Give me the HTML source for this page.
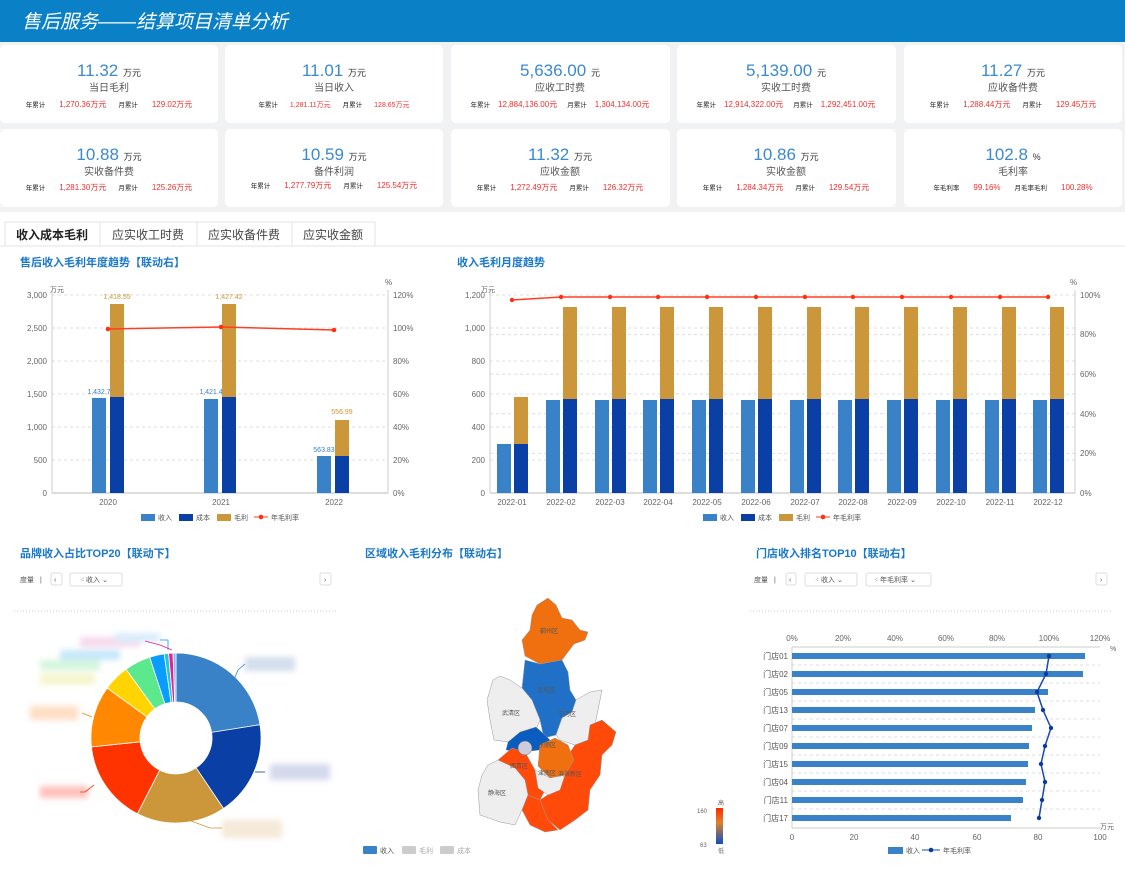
<!DOCTYPE html>
<html><head><meta charset="utf-8"><style>
body{margin:0;width:1125px;height:870px;overflow:hidden;background:#fff;font-family:"Liberation Sans","Noto Sans CJK SC",sans-serif}
svg text{font-family:"Liberation Sans","Noto Sans CJK SC",sans-serif}
.l{font-size:6.5px;fill:#222}
</style></head><body>
<svg width="1125" height="870" viewBox="0 0 1125 870" xmlns="http://www.w3.org/2000/svg">
<defs><filter id="bl"><feGaussianBlur stdDeviation="3"/></filter></defs>
<rect width="1125" height="870" fill="#fff"/>
<rect y="42" width="1125" height="170" fill="#f1f2f4"/>
<rect width="1125" height="42" fill="#0a80c6"/>
<text x="22" y="28" font-size="19" fill="#fff" font-style="italic">售后服务——结算项目清单分析</text>
<!-- cards -->
<g fill="#fff">
<rect x="0" y="45" width="218" height="78" rx="5"/><rect x="225" y="45" width="218" height="78" rx="5"/><rect x="451" y="45" width="219" height="78" rx="5"/><rect x="677" y="45" width="219" height="78" rx="5"/><rect x="904" y="45" width="218" height="78" rx="5"/>
<rect x="0" y="129" width="218" height="78" rx="5"/><rect x="225" y="129" width="218" height="78" rx="5"/><rect x="451" y="129" width="219" height="78" rx="5"/><rect x="677" y="129" width="219" height="78" rx="5"/><rect x="904" y="129" width="218" height="78" rx="5"/>
</g>
<g text-anchor="middle">
<g font-size="17" fill="#3a8ad0">
<text x="109" y="76">11.32 <tspan font-size="9" fill="#333">万元</tspan></text>
<text x="334" y="76">11.01 <tspan font-size="9" fill="#333">万元</tspan></text>
<text x="560" y="76">5,636.00 <tspan font-size="9" fill="#333">元</tspan></text>
<text x="786" y="76">5,139.00 <tspan font-size="9" fill="#333">元</tspan></text>
<text x="1013" y="76">11.27 <tspan font-size="9" fill="#333">万元</tspan></text>
<text x="109" y="160">10.88 <tspan font-size="9" fill="#333">万元</tspan></text>
<text x="334" y="160">10.59 <tspan font-size="9" fill="#333">万元</tspan></text>
<text x="560" y="160">11.32 <tspan font-size="9" fill="#333">万元</tspan></text>
<text x="786" y="160">10.86 <tspan font-size="9" fill="#333">万元</tspan></text>
<text x="1013" y="160">102.8 <tspan font-size="9" fill="#333">%</tspan></text>
</g>
<g font-size="10" fill="#555">
<text x="109" y="91">当日毛利</text><text x="334" y="91">当日收入</text><text x="560" y="91">应收工时费</text><text x="786" y="91">实收工时费</text><text x="1013" y="91">应收备件费</text>
<text x="109" y="175">实收备件费</text><text x="334" y="175">备件利润</text><text x="560" y="175">应收金额</text><text x="786" y="175">实收金额</text><text x="1013" y="175">毛利率</text>
</g>
<g font-size="8" fill="#f03030">
<text x="109" y="107"><tspan class="l">年累计</tspan><tspan dx="14">1,270.36万元</tspan><tspan class="l" dx="12">月累计</tspan><tspan dx="14">129.02万元</tspan></text>
<text x="334" y="107" font-size="7"><tspan class="l">年累计</tspan><tspan dx="12">1,281.11万元</tspan><tspan class="l" dx="12">月累计</tspan><tspan dx="12">128.65万元</tspan></text>
<text x="560" y="107"><tspan class="l">年累计</tspan><tspan dx="8">12,884,136.00元</tspan><tspan class="l" dx="10">月累计</tspan><tspan dx="8">1,304,134.00元</tspan></text>
<text x="786" y="107"><tspan class="l">年累计</tspan><tspan dx="8">12,914,322.00元</tspan><tspan class="l" dx="10">月累计</tspan><tspan dx="8">1,292,451.00元</tspan></text>
<text x="1013" y="107"><tspan class="l">年累计</tspan><tspan dx="14">1,288.44万元</tspan><tspan class="l" dx="12">月累计</tspan><tspan dx="14">129.45万元</tspan></text>
<text x="109" y="190"><tspan class="l">年累计</tspan><tspan dx="14">1,281.30万元</tspan><tspan class="l" dx="12">月累计</tspan><tspan dx="14">125.26万元</tspan></text>
<text x="334" y="188"><tspan class="l">年累计</tspan><tspan dx="14">1,277.79万元</tspan><tspan class="l" dx="12">月累计</tspan><tspan dx="14">125.54万元</tspan></text>
<text x="560" y="190"><tspan class="l">年累计</tspan><tspan dx="14">1,272.49万元</tspan><tspan class="l" dx="12">月累计</tspan><tspan dx="14">126.32万元</tspan></text>
<text x="786" y="190"><tspan class="l">年累计</tspan><tspan dx="14">1,284.34万元</tspan><tspan class="l" dx="12">月累计</tspan><tspan dx="14">129.54万元</tspan></text>
<text x="1013" y="190"><tspan class="l">年毛利率</tspan><tspan dx="14">99.16%</tspan><tspan class="l" dx="14">月毛率毛利</tspan><tspan dx="14">100.28%</tspan></text>
</g>
</g>
<!-- tabs -->
<line x1="0" y1="246" x2="1125" y2="246" stroke="#e6e6e6"/>
<g fill="#fff" stroke="#e3e3e3"><rect x="5" y="222" width="95" height="24"/><rect x="100" y="222" width="97" height="24"/><rect x="197" y="222" width="95" height="24"/><rect x="292" y="222" width="83" height="24"/></g>
<g font-size="12" text-anchor="middle" fill="#444"><text x="52" y="239" font-weight="bold" fill="#222">收入成本毛利</text><text x="148" y="239">应实收工时费</text><text x="244" y="239">应实收备件费</text><text x="333" y="239">应实收金额</text></g>
<!-- titles -->
<g font-size="11" font-weight="bold" fill="#1a78c8">
<text x="20" y="266">售后收入毛利年度趋势【联动右】</text>
<text x="457" y="266">收入毛利月度趋势</text>
<text x="20" y="557">品牌收入占比TOP20【联动下】</text>
<text x="365" y="557">区域收入毛利分布【联动右】</text>
<text x="756" y="557">门店收入排名TOP10【联动右】</text>
</g>
<!-- left chart -->
<g stroke="#ddd" stroke-dasharray="3,3"><line x1="52" y1="295" x2="388" y2="295"/><line x1="52" y1="328" x2="388" y2="328"/><line x1="52" y1="361" x2="388" y2="361"/><line x1="52" y1="394" x2="388" y2="394"/><line x1="52" y1="427" x2="388" y2="427"/><line x1="52" y1="460" x2="388" y2="460"/></g>
<line x1="52" y1="493" x2="388" y2="493" stroke="#bbb"/><line x1="52" y1="290" x2="52" y2="493" stroke="#ccc"/><line x1="388" y1="290" x2="388" y2="493" stroke="#ccc"/>
<g font-size="8" fill="#666" text-anchor="end"><text x="47" y="298">3,000</text><text x="47" y="331">2,500</text><text x="47" y="364">2,000</text><text x="47" y="397">1,500</text><text x="47" y="430">1,000</text><text x="47" y="463">500</text><text x="47" y="496">0</text></g>
<g font-size="8" fill="#666"><text x="393" y="298">120%</text><text x="393" y="331">100%</text><text x="393" y="364">80%</text><text x="393" y="397">60%</text><text x="393" y="430">40%</text><text x="393" y="463">20%</text><text x="393" y="496">0%</text><text x="385" y="285">%</text><text x="50" y="292" font-size="7">万元</text></g>
<g font-size="8" fill="#666" text-anchor="middle"><text x="108" y="505">2020</text><text x="221" y="505">2021</text><text x="334" y="505">2022</text></g>
<g fill="#3a82c8"><rect x="92" y="398" width="14" height="95"/><rect x="204" y="399" width="14" height="94"/><rect x="317" y="456" width="14" height="37"/></g>
<g fill="#0a3fa6"><rect x="110" y="397" width="14" height="96"/><rect x="222" y="397" width="14" height="96"/><rect x="335" y="456" width="14" height="37"/></g>
<g fill="#cc963a"><rect x="110" y="304" width="14" height="93"/><rect x="222" y="304" width="14" height="93"/><rect x="335" y="420" width="14" height="36"/></g>
<g font-size="7" text-anchor="middle"><g fill="#3a82c8"><text x="99" y="394">1,432.7</text><text x="211" y="394">1,421.4</text><text x="324" y="452">563.83</text></g><g fill="#cc963a"><text x="117" y="299">1,418.55</text><text x="229" y="299">1,427.42</text><text x="342" y="414">556.99</text></g></g>
<polyline points="108,329 221,327 334,330" fill="none" stroke="#ff4020" stroke-width="1.5"/>
<g fill="#ff3010"><circle cx="108" cy="329" r="2.3"/><circle cx="221" cy="327" r="2.3"/><circle cx="334" cy="330" r="2.3"/></g>
<g font-size="7" fill="#555"><rect x="141" y="514" width="14" height="7" fill="#3a82c8"/><text x="158" y="520">收入</text><rect x="179" y="514" width="14" height="7" fill="#0a3fa6"/><text x="196" y="520">成本</text><rect x="217" y="514" width="14" height="7" fill="#cc963a"/><text x="234" y="520">毛利</text><line x1="254" y1="517" x2="268" y2="517" stroke="#ff4020"/><circle cx="261" cy="517" r="2.3" fill="#ff3010"/><text x="271" y="520">年毛利率</text></g>
<!-- right chart -->
<g stroke="#ddd" stroke-dasharray="3,3"><line x1="490" y1="295" x2="1075" y2="295"/><line x1="490" y1="328" x2="1075" y2="328"/><line x1="490" y1="361" x2="1075" y2="361"/><line x1="490" y1="394" x2="1075" y2="394"/><line x1="490" y1="427" x2="1075" y2="427"/><line x1="490" y1="460" x2="1075" y2="460"/><line x1="490" y1="334.6" x2="1075" y2="334.6"/><line x1="490" y1="374.2" x2="1075" y2="374.2"/><line x1="490" y1="413.8" x2="1075" y2="413.8"/><line x1="490" y1="453.4" x2="1075" y2="453.4"/></g>
<line x1="490" y1="493" x2="1075" y2="493" stroke="#bbb"/><line x1="490" y1="290" x2="490" y2="493" stroke="#ccc"/><line x1="1075" y1="290" x2="1075" y2="493" stroke="#ccc"/>
<g font-size="8" fill="#666" text-anchor="end"><text x="485" y="298">1,200</text><text x="485" y="331">1,000</text><text x="485" y="364">800</text><text x="485" y="397">600</text><text x="485" y="430">400</text><text x="485" y="463">200</text><text x="485" y="496">0</text></g>
<g font-size="8" fill="#666"><text x="1080" y="298">100%</text><text x="1080" y="337">80%</text><text x="1080" y="377">60%</text><text x="1080" y="417">40%</text><text x="1080" y="456">20%</text><text x="1080" y="496">0%</text><text x="1070" y="285">%</text><text x="481" y="292" font-size="7">万元</text></g>
<g font-size="8" fill="#666" text-anchor="middle"><text x="512" y="505">2022-01</text><text x="561" y="505">2022-02</text><text x="610" y="505">2022-03</text><text x="658" y="505">2022-04</text><text x="707" y="505">2022-05</text><text x="756" y="505">2022-06</text><text x="805" y="505">2022-07</text><text x="853" y="505">2022-08</text><text x="902" y="505">2022-09</text><text x="951" y="505">2022-10</text><text x="1000" y="505">2022-11</text><text x="1048" y="505">2022-12</text></g>
<g fill="#3a82c8"><rect x="497" y="444" width="14" height="49"/><rect x="546" y="400" width="14" height="93"/><rect x="595" y="400" width="14" height="93"/><rect x="643" y="400" width="14" height="93"/><rect x="692" y="400" width="14" height="93"/><rect x="741" y="400" width="14" height="93"/><rect x="790" y="400" width="14" height="93"/><rect x="838" y="400" width="14" height="93"/><rect x="887" y="400" width="14" height="93"/><rect x="936" y="400" width="14" height="93"/><rect x="985" y="400" width="14" height="93"/><rect x="1033" y="400" width="14" height="93"/></g>
<g fill="#0a3fa6"><rect x="514" y="444" width="14" height="49"/><rect x="563" y="399" width="14" height="94"/><rect x="612" y="399" width="14" height="94"/><rect x="660" y="399" width="14" height="94"/><rect x="709" y="399" width="14" height="94"/><rect x="758" y="399" width="14" height="94"/><rect x="807" y="399" width="14" height="94"/><rect x="855" y="399" width="14" height="94"/><rect x="904" y="399" width="14" height="94"/><rect x="953" y="399" width="14" height="94"/><rect x="1002" y="399" width="14" height="94"/><rect x="1050" y="399" width="14" height="94"/></g>
<g fill="#cc963a"><rect x="514" y="397" width="14" height="47"/><rect x="563" y="307" width="14" height="92"/><rect x="612" y="307" width="14" height="92"/><rect x="660" y="307" width="14" height="92"/><rect x="709" y="307" width="14" height="92"/><rect x="758" y="307" width="14" height="92"/><rect x="807" y="307" width="14" height="92"/><rect x="855" y="307" width="14" height="92"/><rect x="904" y="307" width="14" height="92"/><rect x="953" y="307" width="14" height="92"/><rect x="1002" y="307" width="14" height="92"/><rect x="1050" y="307" width="14" height="92"/></g>
<polyline points="512,300 561,297 610,297 658,297 707,297 756,297 805,297 853,297 902,297 951,297 1000,297 1048,297" fill="none" stroke="#ff4020" stroke-width="1.5"/>
<g fill="#ff3010"><circle cx="512" cy="300" r="2.2"/><circle cx="561" cy="297" r="2.2"/><circle cx="610" cy="297" r="2.2"/><circle cx="658" cy="297" r="2.2"/><circle cx="707" cy="297" r="2.2"/><circle cx="756" cy="297" r="2.2"/><circle cx="805" cy="297" r="2.2"/><circle cx="853" cy="297" r="2.2"/><circle cx="902" cy="297" r="2.2"/><circle cx="951" cy="297" r="2.2"/><circle cx="1000" cy="297" r="2.2"/><circle cx="1048" cy="297" r="2.2"/></g>
<g font-size="7" fill="#555"><rect x="703" y="514" width="14" height="7" fill="#3a82c8"/><text x="720" y="520">收入</text><rect x="741" y="514" width="14" height="7" fill="#0a3fa6"/><text x="758" y="520">成本</text><rect x="779" y="514" width="14" height="7" fill="#cc963a"/><text x="796" y="520">毛利</text><line x1="816" y1="517" x2="830" y2="517" stroke="#ff4020"/><circle cx="823" cy="517" r="2.3" fill="#ff3010"/><text x="833" y="520">年毛利率</text></g>
<!-- pie toolbar -->
<g font-size="7" fill="#555"><text x="20" y="582">度量</text><text x="40" y="582">|</text>
<rect x="51" y="573" width="11" height="12" fill="#fff" stroke="#ddd" rx="2"/><text x="54" y="582">‹</text>
<rect x="70" y="573" width="52" height="13" fill="#fff" stroke="#ddd" rx="2"/><text x="80" y="582">⁖ 收入 ⌄</text>
<rect x="320" y="573" width="11" height="12" fill="#fff" stroke="#ddd" rx="2"/><text x="324" y="582">›</text></g>
<line x1="14" y1="611" x2="336" y2="611" stroke="#ccc" stroke-dasharray="1,2"/>
<!-- donut -->
<g stroke="#fff" stroke-width="0.8">
<path d="M176,653 A85,85 0 0 1 260,724.7 L211.6,732.4 A36,36 0 0 0 176,702 Z" fill="#3a82c8"/>
<path d="M260,724.7 A85,85 0 0 1 223.5,808.5 L196.1,767.8 A36,36 0 0 0 211.6,732.4 Z" fill="#0a3fa6"/>
<path d="M223.5,808.5 A85,85 0 0 1 137.4,813.7 L159.7,770.1 A36,36 0 0 0 196.1,767.8 Z" fill="#cc963a"/>
<path d="M137.4,813.7 A85,85 0 0 1 91.4,746.9 L140.2,741.8 A36,36 0 0 0 159.7,770.1 Z" fill="#ff3300"/>
<path d="M91.4,746.9 A85,85 0 0 1 107.2,688 L146.9,716.8 A36,36 0 0 0 140.2,741.8 Z" fill="#ff8800"/>
<path d="M107.2,688 A85,85 0 0 1 126,669.2 L154.8,708.9 A36,36 0 0 0 146.9,716.8 Z" fill="#ffd400"/>
<path d="M126,669.2 A85,85 0 0 1 149.7,657.2 L164.9,703.8 A36,36 0 0 0 154.8,708.9 Z" fill="#5ce88c"/>
<path d="M149.7,657.2 A85,85 0 0 1 164.2,653.9 L171,702.4 A36,36 0 0 0 164.9,703.8 Z" fill="#0a9cff"/>
<path d="M164.2,653.9 A85,85 0 0 1 168.6,653.3 L172.9,702.1 A36,36 0 0 0 171,702.4 Z" fill="#22c8d8"/>
<path d="M168.6,653.3 A85,85 0 0 1 173,653.1 L174.7,702 A36,36 0 0 0 172.9,702.1 Z" fill="#e81e8c"/>
<path d="M173,653.1 A85,85 0 0 1 176,653 L176,702 A36,36 0 0 0 174.7,702 Z" fill="#8ab8f0"/>
</g>
<g filter="url(#bl)" opacity="0.6">
<rect x="245" y="657" width="50" height="14" fill="#b8c8e0"/><rect x="270" y="764" width="60" height="16" fill="#b8c0e0"/><rect x="222" y="820" width="60" height="18" fill="#f0dcc0"/>
<rect x="40" y="786" width="48" height="12" fill="#ff9a90"/><rect x="30" y="706" width="48" height="14" fill="#ffc8a0"/><rect x="40" y="673" width="55" height="12" fill="#f0f0b0"/><rect x="40" y="660" width="60" height="10" fill="#b8f0c8"/><rect x="60" y="650" width="60" height="10" fill="#a0d8f8"/><rect x="80" y="637" width="60" height="10" fill="#f0c0e0"/><rect x="115" y="633" width="45" height="9" fill="#c0e0f8"/>
</g>
<g fill="none" stroke-width="0.8"><polyline points="231,687 238,670 245,664" stroke="#3a82c8"/><polyline points="255,772 265,772" stroke="#0a3fa6"/><polyline points="183,818 210,828 222,828" stroke="#cc963a"/><polyline points="94,785 85,792 80,792" stroke="#ff3300"/><polyline points="92,717 82,713" stroke="#ff8800"/><polyline points="168,650 168,640 160,640" stroke="#0a9cff"/><polyline points="172,650 160,645 145,641" stroke="#e81e8c"/></g>
<!-- map -->
<g stroke="#999" stroke-width="0.5">
<path d="M537,605 L548,598 L556,605 L562,618 L572,620 L580,630 L588,632 L585,640 L574,644 L568,652 L562,660 L540,664 L525,656 L522,640 L530,630 L532,615 Z" fill="#f07010"/>
<path d="M525,660 L540,664 L562,660 L568,672 L570,690 L576,700 L572,712 L562,718 L556,735 L544,738 L540,720 L532,700 L522,688 Z" fill="#2070c8"/>
<path d="M493,680 L500,676 L510,680 L522,688 L532,700 L540,720 L536,730 L520,735 L508,742 L494,740 L490,720 L487,700 Z" fill="#eeeeee"/>
<path d="M576,700 L590,692 L602,690 L598,710 L595,725 L588,740 L575,745 L560,740 L556,735 L562,718 L572,712 Z" fill="#eeeeee"/>
<path d="M508,742 L520,732 L536,727 L545,735 L550,740 L540,750 L522,752 L506,750 Z" fill="#0a5cc0"/>
<path d="M590,725 L602,720 L616,732 L612,745 L602,755 L600,775 L590,790 L588,810 L575,820 L560,830 L548,820 L540,800 L555,790 L565,775 L565,760 L575,745 L588,740 Z" fill="#ff4a0a"/>
<path d="M540,745 L555,738 L568,745 L574,760 L565,775 L550,778 L538,766 Z" fill="#f07010"/>
<path d="M498,760 L512,748 L525,752 L535,770 L545,790 L540,800 L528,795 L525,780 L515,768 Z" fill="#ff4a0a"/>
<path d="M488,765 L498,760 L515,768 L525,780 L528,795 L522,810 L515,825 L500,822 L480,815 L478,790 L482,775 Z" fill="#eeeeee"/>
<path d="M528,795 L540,800 L548,820 L558,830 L545,832 L530,825 L522,810 Z" fill="#ff4a0a"/>
<path d="M535,770 L550,778 L565,775 L560,790 L548,795 L538,788 Z" fill="#eeeeee"/>
<circle cx="525" cy="748" r="7" fill="#ccd" stroke="#666"/>
</g>
<g font-size="6" fill="#555"><text x="540" y="633">蓟州区</text><text x="537" y="692">宝坻区</text><text x="502" y="715">武清区</text><text x="558" y="716">宁河区</text><text x="538" y="747">东丽区</text><text x="538" y="775">津南区</text><text x="558" y="776">滨海新区</text><text x="488" y="795">静海区</text><text x="510" y="768">西青区</text></g>
<defs><linearGradient id="vm" x1="0" y1="0" x2="0" y2="1"><stop offset="0" stop-color="#ff2a00"/><stop offset="0.4" stop-color="#e0802a"/><stop offset="1" stop-color="#0a50c0"/></linearGradient></defs>
<rect x="716" y="808" width="7" height="36" fill="url(#vm)"/>
<g font-size="6" fill="#666"><text x="697" y="813">160</text><text x="700" y="847">63</text><text x="718" y="805">高</text><text x="718" y="853">低</text></g>
<g font-size="7" fill="#555"><rect x="363" y="846" width="14" height="8" fill="#3a82c8" rx="1"/><text x="380" y="853">收入</text><rect x="402" y="846" width="14" height="8" fill="#ccc" rx="1"/><text x="419" y="853" fill="#aaa">毛利</text><rect x="440" y="846" width="14" height="8" fill="#ccc" rx="1"/><text x="457" y="853" fill="#aaa">成本</text></g>
<!-- store chart -->
<g font-size="7" fill="#555"><text x="754" y="582">度量</text><text x="774" y="582">|</text>
<rect x="786" y="573" width="10" height="12" fill="#fff" stroke="#ddd" rx="2"/><text x="789" y="582">‹</text>
<rect x="805" y="573" width="52" height="13" fill="#fff" stroke="#ddd" rx="2"/><text x="815" y="582">⁖ 收入 ⌄</text>
<rect x="866" y="573" width="65" height="13" fill="#fff" stroke="#ddd" rx="2"/><text x="874" y="582">⁖ 年毛利率 ⌄</text>
<rect x="1096" y="573" width="11" height="12" fill="#fff" stroke="#ddd" rx="2"/><text x="1100" y="582">›</text></g>
<line x1="750" y1="611" x2="1112" y2="611" stroke="#ccc" stroke-dasharray="1,2"/>
<g stroke="#ddd" stroke-dasharray="3,3"><line x1="792" y1="665" x2="1100" y2="665"/><line x1="792" y1="683" x2="1100" y2="683"/><line x1="792" y1="701" x2="1100" y2="701"/><line x1="792" y1="719" x2="1100" y2="719"/><line x1="792" y1="737" x2="1100" y2="737"/><line x1="792" y1="755" x2="1100" y2="755"/><line x1="792" y1="773" x2="1100" y2="773"/><line x1="792" y1="791" x2="1100" y2="791"/><line x1="792" y1="809" x2="1100" y2="809"/></g>
<g stroke="#ccc"><line x1="792" y1="647" x2="1100" y2="647"/><line x1="792" y1="828" x2="1100" y2="828"/><line x1="792" y1="647" x2="792" y2="828"/></g>
<g font-size="8" fill="#666" text-anchor="middle"><text x="792" y="641">0%</text><text x="843" y="641">20%</text><text x="895" y="641">40%</text><text x="946" y="641">60%</text><text x="997" y="641">80%</text><text x="1049" y="641">100%</text><text x="1100" y="641">120%</text>
<text x="792" y="840">0</text><text x="854" y="840">20</text><text x="915" y="840">40</text><text x="977" y="840">60</text><text x="1038" y="840">80</text><text x="1100" y="840">100</text></g>
<g font-size="7" fill="#666"><text x="1100" y="829">万元</text><text x="1110" y="651">%</text></g>
<g font-size="8" fill="#555" text-anchor="end"><text x="788" y="659">门店01</text><text x="788" y="677">门店02</text><text x="788" y="695">门店05</text><text x="788" y="713">门店13</text><text x="788" y="731">门店07</text><text x="788" y="749">门店09</text><text x="788" y="767">门店15</text><text x="788" y="785">门店04</text><text x="788" y="803">门店11</text><text x="788" y="821">门店17</text></g>
<g fill="#3a82c8"><rect x="792" y="653" width="293" height="6"/><rect x="792" y="671" width="291" height="6"/><rect x="792" y="689" width="256" height="6"/><rect x="792" y="707" width="243" height="6"/><rect x="792" y="725" width="240" height="6"/><rect x="792" y="743" width="237" height="6"/><rect x="792" y="761" width="236" height="6"/><rect x="792" y="779" width="234" height="6"/><rect x="792" y="797" width="231" height="6"/><rect x="792" y="815" width="219" height="6"/></g>
<polyline points="1049,656 1046,674 1037,692 1043,710 1051,728 1045,746 1041,764 1045,782 1042,800 1039,818" fill="none" stroke="#1a48b0" stroke-width="1.5"/>
<g fill="#0a3aa0"><circle cx="1049" cy="656" r="2.2"/><circle cx="1046" cy="674" r="2.2"/><circle cx="1037" cy="692" r="2.2"/><circle cx="1043" cy="710" r="2.2"/><circle cx="1051" cy="728" r="2.2"/><circle cx="1045" cy="746" r="2.2"/><circle cx="1041" cy="764" r="2.2"/><circle cx="1045" cy="782" r="2.2"/><circle cx="1042" cy="800" r="2.2"/><circle cx="1039" cy="818" r="2.2"/></g>
<g font-size="7" fill="#555"><rect x="888" y="847" width="15" height="7" fill="#3a82c8"/><text x="906" y="853">收入</text><line x1="922" y1="850" x2="940" y2="850" stroke="#1a48b0"/><circle cx="931" cy="850" r="2.3" fill="#0a3aa0"/><text x="943" y="853">年毛利率</text></g>
</svg>
</body></html>
